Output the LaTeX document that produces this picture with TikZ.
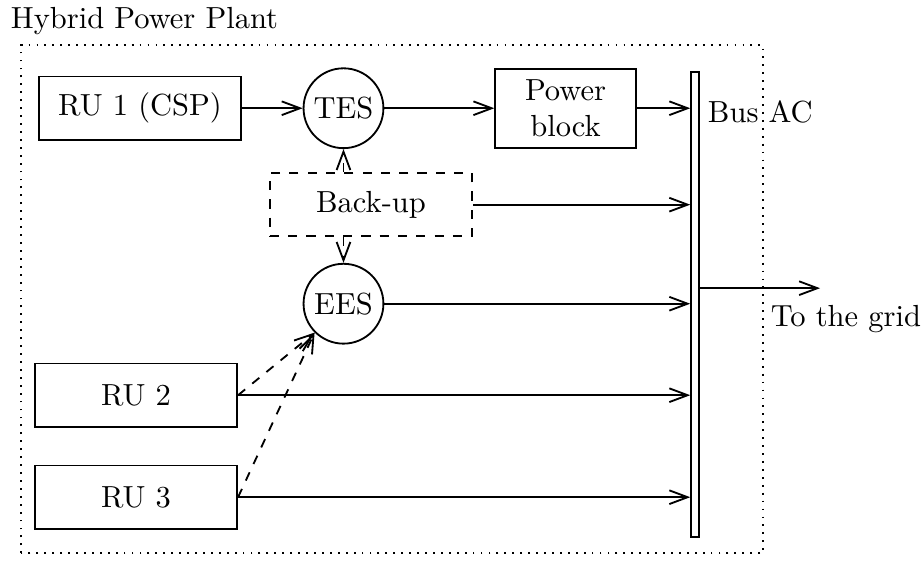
\documentclass[tikz,border=0pt]{standalone}
\usetikzlibrary{arrows.meta}
\begin{document}
\begin{tikzpicture}[>={Straight Barb[length=6pt, width=4.5pt]}, semithick,
	unit/.style={draw, rectangle, minimum width=2.33cm, minimum height=0.73cm},
	store/.style={draw, circle, minimum size=0.92cm, inner sep=0pt},
	bkp/.style={unit, dashed}]
\useasboundingbox (0, 0) rectangle (10.61, 6.5);

% Plant border
\draw[dotted] (0.242, 0.127) rectangle (8.79, 5.979);
\node[anchor=base west, inner sep=0] (title) at (0.115, 6.175) {Hybrid Power Plant};

% Renewable units
\node[unit] (ru1) at (1.613, 5.253) {RU 1 (CSP)};
\node[unit] (ru2) at (1.567, 1.947) {RU 2};
\node[unit] (ru3) at (1.567, 0.772) {RU 3};

% Storage, back-up and power block
\node[store] (tes) at (3.957, 5.253) {TES};
\node[store] (ees) at (3.957, 3.001) {EES};
\node[bkp] (backup) at (4.274, 4.142) {Back-up};
\node[draw, align=center, minimum width=1.62cm, minimum height=0.91cm] (pb) at (6.515, 5.253) {Power\\block};

% Bus
\node[draw, minimum width=0.09cm, minimum height=5.36cm, inner sep=0] (bus) at (8.007, 2.99) {};
\node[anchor=base west, inner sep=0] (buslbl) at (8.145, 5.092) {Bus AC};

% Connections
\draw[->] (ru1) -- (tes);
\draw[->] (tes) -- (pb);
\draw[->] (pb) -- (pb -| bus.west);
\draw[->] (backup) -- (backup -| bus.west);
\draw[->] (ees) -- (ees -| bus.west);
\draw[->] (ru2) -- (ru2 -| bus.west);
\draw[->] (ru3) -- (ru3 -| bus.west);

\draw[->, dashed] (backup.north -| tes) -- (tes);
\draw[->, dashed] (backup.south -| ees) -- (ees);
\draw[->, dashed] (ru2.east) -- (ees.south west);
\draw[->, dashed] (ru3.east) -- (ees.south west);

% Output
\coordinate (grid) at (9.447, 3.18);
\draw[->] (grid -| bus.east) -- (grid);
\node[anchor=base west, inner sep=0] (gridlbl) at (8.871, 2.742) {To the grid};

\end{tikzpicture}
\end{document}
